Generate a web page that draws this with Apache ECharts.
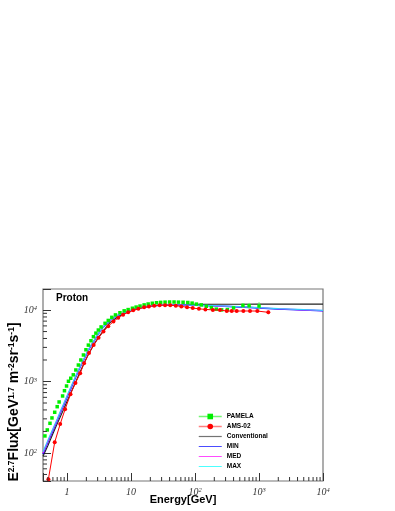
<!DOCTYPE html>
<html><head><meta charset="utf-8">
<script src="https://cdn.jsdelivr.net/npm/echarts@6/dist/echarts.min.js"></script>
<style>html,body{margin:0;padding:0;background:#fff}#c{width:395px;height:511px}</style>
</head><body><div id="c"></div>
<script>
// ---------- data ----------
const pamelaE = [0.45,0.49,0.54,0.58,0.64,0.70,0.75,0.85,0.91,0.98,1.05,1.14,1.25,1.37,1.50,1.64,1.80,1.97,2.15,2.36,2.58,2.82,3.08,3.40,3.92,4.40,5.0,5.7,6.7,7.8,9.0,10.5,12.0,13.8,16.0,18.5,21.5,25,29,34,40,47,55,65,77,90,105,125,150,180,215,260,320,400,560,700,1000];
const pamelaF = [173,210,260,309,371,444,517,627,743,865,1007,1110,1240,1450,1700,2000,2350,2780,3230,3720,4240,4750,5250,5800,6520,7150,7900,8550,9170,9750,10150,10600,11000,11370,11800,12150,12450,12650,12800,12900,12950,12950,12900,12850,12750,12500,12100,11800,11300,10800,10300,10050,10150,10700,11600,11500,11400];
const pamelaErr = [0,0,0,0,0,0,0,0,0,0,0,0,0,0,0,0,0,0,0,0,0,0,0,0,0,0,0,0,0,0,0,0,0,0,0,0,0,0,0,0,0,0,0,0,0,100,120,150,200,250,300,350,450,600,900,1100,1500];

const amsE = [0.51,0.64,0.78,0.93,1.13,1.35,1.6,1.84,2.2,2.6,3.1,3.7,4.4,5.3,6.3,7.5,9.0,10.8,13,16,19,23,28,34,41,50,61,75,92,115,145,190,245,313,374,448,569,723,940,1397];
const amsF = [43,141,254,408,662,953,1300,1800,2500,3250,4100,5000,5950,6900,7800,8600,9300,9900,10400,10900,11250,11500,11650,11700,11650,11500,11250,10950,10650,10400,10200,10050,10000,9700,9680,9680,9700,9700,9680,9290];
const amsErr = [0,0,0,0,0,0,0,0,0,0,0,0,0,0,0,0,0,0,0,0,0,0,0,0,0,0,0,0,0,100,120,150,180,200,220,250,300,350,420,550];

const modelE = [0.42,0.5,0.6,0.7,0.8,0.9,1.0,1.114,1.4,1.6,1.9,2.15,2.6,3.1,3.7,4.7,6.3,8.6,12.3,17,22,30,40,60,100,200,500,1000,2000,5000,10000];
const convF = [90,126,186,255,335,425,530,660,1040,1370,1900,2380,3250,4150,5150,6700,8150,9300,10400,11050,11450,11700,11850,11950,12000,12050,12080,12100,12100,12100,12100];
const minF  = [97,141,205,282,376,482,603,750,1215,1580,2165,2720,3610,4680,5800,7200,8470,9420,10520,11120,11470,11680,11730,11730,11620,11400,11030,10680,10330,9980,9720];
const medF  = [100,145,211,290,387,495,619,770,1240,1610,2200,2760,3650,4720,5840,7240,8500,9450,10550,11150,11500,11700,11750,11750,11650,11450,11100,10750,10400,10050,9800];
const maxF  = [104,150,218,299,398,508,635,790,1265,1640,2235,2800,3690,4760,5880,7280,8530,9480,10580,11180,11530,11720,11770,11770,11680,11500,11170,10830,10480,10130,9880];

const xTicks = [1,10,100,1000,10000];
const xTickLabels = ['{b|1}','{b|10}','{b|10}{s|2}','{b|10}{s|3}','{b|10}{s|4}'];
const yTicks = [100,1000,10000];
const yTickLabels = ['{b|10}{s|2}','{b|10}{s|3}','{b|10}{s|4}'];

// ---------- chart ----------
const X_MIN = 0.42, X_MAX = 10000, Y_MIN = 40.5, Y_MAX = 19700;
const pairs = (xs, ys) => xs.map((x, i) => [x, ys[i]]);
const errs = (xs, ys, es) => xs.map((x, i) => [x, ys[i] - es[i], ys[i] + es[i]]).filter((d, i) => es[i] > 0);

function minorVals(lo, hi) {
  const out = [];
  for (let d = -1; d <= 4; d++) for (let m = 2; m <= 9; m++) {
    const v = m * Math.pow(10, d);
    if (v > lo && v < hi) out.push(v);
  }
  return out;
}
function labelFor(v, ticks, labels) {
  for (let i = 0; i < ticks.length; i++) if (Math.abs(v / ticks[i] - 1) < 1e-6) return labels[i];
  return '';
}
const labelRich = {
  b: {fontFamily: 'Liberation Serif', fontStyle: 'italic', fontSize: 10, color: '#333'},
  s: {fontFamily: 'Liberation Serif', fontStyle: 'italic', fontSize: 6.5, color: '#333', verticalAlign: 'top', lineHeight: 8}
};
const tickColor = '#333';

const chart = echarts.init(document.getElementById('c'), null, {renderer: 'canvas'});
const series = [
  {name: 'Conventional', type: 'line', data: pairs(modelE, convF), symbol: 'none', lineStyle: {color: '#222', width: 1.1}, z: 3},
  {name: 'MIN', type: 'line', data: pairs(modelE, minF), symbol: 'none', lineStyle: {color: '#0000ff', width: 1.3}, z: 3},
  {name: 'MED', type: 'line', data: pairs(modelE, medF), symbol: 'none', lineStyle: {color: '#ff00ff', width: 1.1}, z: 3},
  {name: 'MAX', type: 'line', data: pairs(modelE, maxF), symbol: 'none', lineStyle: {color: '#33ccff', width: 1.2}, z: 3},
  {name: 'PAMELA', type: 'line', data: pairs(pamelaE, pamelaF), symbol: 'rect', symbolSize: 3.5,
   itemStyle: {color: '#00ee00'}, lineStyle: {opacity: 0, color: '#00ee00'}, z: 4},
  {name: 'AMS-02', type: 'line', data: pairs(amsE, amsF), symbol: 'circle', symbolSize: 4,
   itemStyle: {color: '#ff0000'}, lineStyle: {color: '#ff0000', width: 1}, z: 5},
  {type: 'custom', silent: true, z: 4, clip: true, data: errs(pamelaE, pamelaF, pamelaErr),
   encode: {x: 0, y: [1, 2]},
   renderItem: (p, api) => {
     const a = api.coord([api.value(0), api.value(1)]), b = api.coord([api.value(0), api.value(2)]);
     return {type: 'line', shape: {x1: a[0], y1: a[1], x2: b[0], y2: b[1]}, style: {stroke: '#66ff66', lineWidth: 1}};
   }},
  {type: 'custom', silent: true, z: 5, clip: true, data: errs(amsE, amsF, amsErr),
   encode: {x: 0, y: [1, 2]},
   renderItem: (p, api) => {
     const a = api.coord([api.value(0), api.value(1)]), b = api.coord([api.value(0), api.value(2)]);
     return {type: 'line', shape: {x1: a[0], y1: a[1], x2: b[0], y2: b[1]}, style: {stroke: '#ff8080', lineWidth: 1}};
   }},
  // minor ticks, placed through the axis scales
  {type: 'custom', silent: true, z: 6, data: minorVals(X_MIN, X_MAX).map(v => [v, 1000]),
   renderItem: (p, api) => {
     const x = api.coord([api.value(0), 1000])[0]; const yb = p.coordSys.y + p.coordSys.height;
     return {type: 'line', shape: {x1: x, y1: yb, x2: x, y2: yb - 4}, style: {stroke: tickColor, lineWidth: 1}};
   }},
  {type: 'custom', silent: true, z: 6, data: minorVals(Y_MIN, Y_MAX).map(v => [1, v]),
   renderItem: (p, api) => {
     const y = api.coord([1, api.value(1)])[1]; const xl = p.coordSys.x;
     return {type: 'line', shape: {x1: xl, y1: y, x2: xl + 4, y2: y}, style: {stroke: tickColor, lineWidth: 1}};
   }}
];

const noSym = {opacity: 0};
chart.setOption({
  animation: false,
  backgroundColor: '#fff',
  title: {text: 'Proton', left: 56, top: 293, padding: 0,
    textStyle: {fontFamily: 'Liberation Sans', fontWeight: 'bold', fontSize: 10, color: '#000'}},
  grid: {left: 43, right: 72, top: 289, bottom: 30, show: true, borderColor: '#777', borderWidth: 1.2,
    backgroundColor: 'transparent', containLabel: false, outerBoundsMode: 'none'},
  legend: {
    orient: 'vertical', left: 198, top: 413, padding: 0, itemWidth: 23, itemHeight: 7, itemGap: 3,
    textStyle: {fontFamily: 'Liberation Sans', fontWeight: 'bold', fontSize: 6.5, color: '#000', lineHeight: 7},
    data: [
      {name: 'PAMELA', lineStyle: {opacity: 0.55, color: '#00ee00', width: 1.5}},
      {name: 'AMS-02', lineStyle: {opacity: 0.5, color: '#ff0000', width: 1.5}},
      {name: 'Conventional', itemStyle: noSym, lineStyle: {opacity: 0.55, color: '#000', width: 1.2}},
      {name: 'MIN', itemStyle: noSym, lineStyle: {opacity: 0.7, color: '#0000ff', width: 1}},
      {name: 'MED', itemStyle: noSym, lineStyle: {opacity: 0.7, color: '#ff00ff', width: 1}},
      {name: 'MAX', itemStyle: noSym, lineStyle: {opacity: 0.7, color: '#00ffff', width: 1}}
    ]
  },
  xAxis: {
    type: 'log', logBase: 10, min: X_MIN, max: X_MAX,
    name: 'Energy[GeV]', nameLocation: 'middle', nameGap: 13, nameMoveOverlap: false,
    nameTextStyle: {fontFamily: 'Liberation Sans', fontWeight: 'bold', fontSize: 11, color: '#000'},
    axisLine: {show: false},
    axisTick: {inside: true, length: 8, lineStyle: {color: tickColor}},
    splitLine: {show: false},
    axisLabel: {margin: 6, formatter: v => labelFor(v, xTicks, xTickLabels), rich: labelRich}
  },
  yAxis: {
    type: 'log', logBase: 10, min: Y_MIN, max: Y_MAX,
    name: '{t|E}{u|2.7}{t|Flux[GeV}{u|1.7}{t| m}{u|-2}{t|sr}{u|-1}{t|s}{u|-1}{t|]}',
    nameLocation: 'middle', nameGap: 22, nameRotate: 90, nameMoveOverlap: false,
    nameTextStyle: {padding: [0, 34, 0, 0], rich: {
      t: {fontFamily: 'Liberation Sans', fontWeight: 'bold', fontSize: 14, color: '#000'},
      u: {fontFamily: 'Liberation Sans', fontWeight: 'bold', fontSize: 8.5, color: '#000', verticalAlign: 'top', lineHeight: 9}
    }},
    axisLine: {show: false},
    axisTick: {inside: true, length: 8, lineStyle: {color: tickColor}},
    splitLine: {show: false},
    axisLabel: {margin: 6, formatter: v => labelFor(v, yTicks, yTickLabels), rich: labelRich}
  },
  series: series
});
</script></body></html>
